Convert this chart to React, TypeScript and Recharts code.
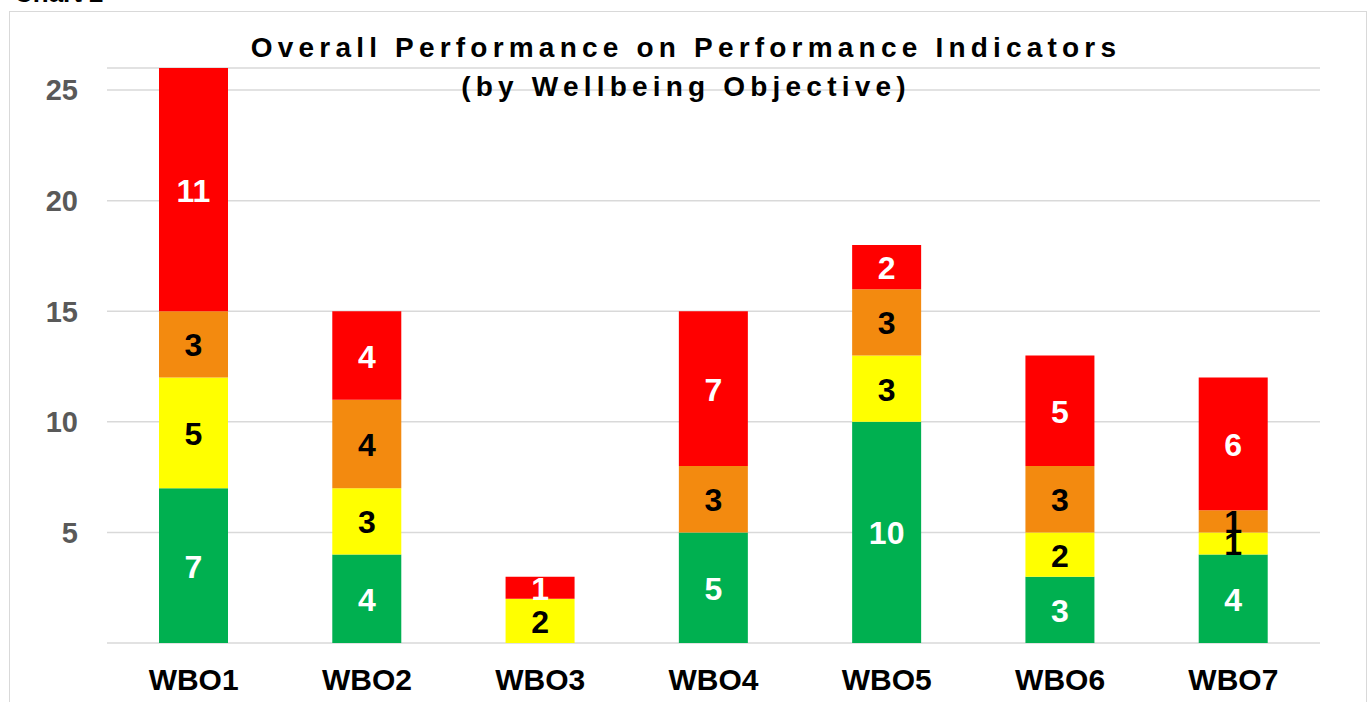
import { BarChart, Bar, XAxis, YAxis, CartesianGrid, LabelList } from "recharts";

const objectives = ["WBO1", "WBO2", "WBO3", "WBO4", "WBO5", "WBO6", "WBO7"];
const green = [7, 4, 0, 5, 10, 3, 4];
const yellow = [5, 3, 2, 0, 3, 2, 1];
const orange = [3, 4, 0, 3, 3, 3, 1];
const red = [11, 4, 1, 7, 2, 5, 6];
const yTicks = [0, 5, 10, 15, 20, 25];

const data = objectives.map((name, i) => ({
  name,
  green: green[i],
  yellow: yellow[i],
  orange: orange[i],
  red: red[i],
}));

const FONT = "'Liberation Sans', Arial, sans-serif";

const makeLabel = (color: string) => (props: any) => {
  const { x, y, width, height, value } = props;
  if (!value) return null;
  return (
    <text
      x={x + width / 2}
      y={y + height / 2 + 1}
      textAnchor="middle"
      dominantBaseline="central"
      fill={color}
      fontSize={32}
      fontWeight="bold"
      fontFamily={FONT}
    >
      {value}
    </text>
  );
};

export default function App() {
  return (
    <div
      style={{
        position: "fixed",
        left: 0,
        top: 0,
        width: 1371,
        height: 702,
        overflow: "hidden",
        background: "#fff",
        fontFamily: FONT,
      }}
    >
      <div
        style={{
          position: "absolute",
          left: 14,
          top: -22,
          fontSize: 26,
          fontWeight: "bold",
          color: "#000",
        }}
      >
        Chart 2
      </div>
      <div
        style={{
          position: "absolute",
          left: 9,
          top: 11,
          width: 1356,
          height: 720,
          border: "1.5px solid #d9d9d9",
        }}
      />
      <div style={{ position: "absolute", left: 0, top: 0 }}>
        <BarChart
          width={1371}
          height={702}
          data={data}
          margin={{ top: 68, right: 51, bottom: 9, left: 0 }}
          barSize={69}
        >
          <CartesianGrid vertical={false} stroke="#d9d9d9" strokeWidth={1.5} />
          <XAxis
            dataKey="name"
            axisLine={false}
            tickLine={false}
            height={50}
            tickMargin={20}
            tick={{ fill: "#000", fontSize: 30, fontWeight: "bold", fontFamily: FONT }}
          />
          <YAxis
            domain={[0, 26]}
            ticks={yTicks}
            width={107}
            axisLine={false}
            tickLine={false}
            tickMargin={23}
            tickFormatter={(v: number) => (v === 0 ? "" : String(v))}
            tick={{ fill: "#595959", fontSize: 29, fontWeight: "bold", fontFamily: FONT }}
          />
          <Bar dataKey="green" stackId="a" fill="#00B050" isAnimationActive={false}>
            <LabelList dataKey="green" content={makeLabel("#fff")} />
          </Bar>
          <Bar dataKey="yellow" stackId="a" fill="#FFFF00" isAnimationActive={false}>
            <LabelList dataKey="yellow" content={makeLabel("#000")} />
          </Bar>
          <Bar dataKey="orange" stackId="a" fill="#F38A0F" isAnimationActive={false}>
            <LabelList dataKey="orange" content={makeLabel("#000")} />
          </Bar>
          <Bar dataKey="red" stackId="a" fill="#FF0000" isAnimationActive={false}>
            <LabelList dataKey="red" content={makeLabel("#fff")} />
          </Bar>
        </BarChart>
      </div>
      <div
        style={{
          position: "absolute",
          left: 186,
          width: 1000,
          top: 28,
          textAlign: "center",
          fontSize: 28,
          fontWeight: "bold",
          letterSpacing: 5.2,
          lineHeight: "39px",
          color: "#000",
        }}
      >
        Overall Performance on Performance Indicators
        <br />
        (by Wellbeing Objective)
      </div>
    </div>
  );
}
